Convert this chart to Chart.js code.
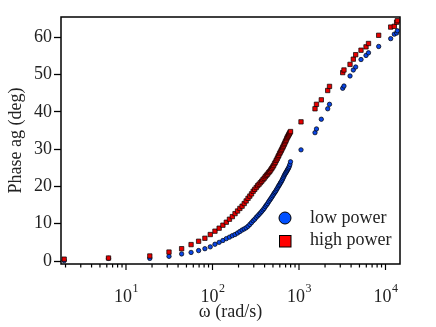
<!DOCTYPE html>
<html>
<head>
<meta charset="utf-8">
<script src="https://cdn.jsdelivr.net/npm/chart.js@4.4.1/dist/chart.umd.min.js"></script>
<style>
  html, body { margin: 0; padding: 0; background: #fff; }
  #wrap { width: 436px; height: 327px; }
</style>
</head>
<body>
<div id="wrap"><canvas id="chart"></canvas></div>
<script>
// frequencies in rad/s, shared by both runs
const omega = [
  1.93, 6.28, 18.85, 31.42, 43.98, 56.55, 69.12, 81.68, 94.25, 106.8,
  119.4, 131.9, 144.5, 157.1, 169.6, 182.2, 194.8, 207.3, 219.9, 232.5,
  245.0, 257.6, 270.2, 282.7, 295.3, 307.9, 320.4, 333.0, 345.6, 358.1,
  370.7, 383.3, 395.8, 408.4, 421.0, 433.5, 446.1, 458.7, 471.2, 483.8,
  496.4, 508.9, 521.5, 534.1, 546.6, 559.2, 571.8, 584.3, 596.9, 609.5,
  622.0, 634.6, 647.2, 659.7, 672.3, 684.9, 697.4, 710.0, 722.6, 735.1,
  747.7, 760.3, 772.8, 785.4, 798.0,
  1055, 1531, 1592, 1811, 2147, 2253, 3200, 3311, 3890, 4246,
  4522, 5210, 5954, 6360, 8340, 11480, 12640, 13450, 13700
];
const phaseLow = [
  0.1, 0.7, 0.7, 1.25, 1.9, 2.3, 2.8, 3.3, 3.8, 4.5,
  5.0, 5.5, 6.0, 6.4, 6.8, 7.1, 7.5, 7.9, 8.3, 8.6,
  8.9, 9.3, 9.8, 10.3, 10.8, 11.2, 11.7, 12.1, 12.5, 12.9,
  13.3, 13.7, 14.1, 14.6, 15.0, 15.4, 15.9, 16.3, 16.7, 17.1,
  17.5, 17.9, 18.3, 18.6, 19.0, 19.4, 19.8, 20.2, 20.5, 20.9,
  21.2, 21.6, 22.0, 22.4, 22.8, 23.2, 23.5, 23.8, 24.1, 24.4,
  24.7, 25.0, 25.4, 25.9, 26.6,
  29.8, 34.4, 35.4, 38.0, 40.8, 42.0, 46.3, 46.9, 49.6, 51.2,
  52.0, 54.0, 55.1, 55.8, 57.5, 59.6, 60.8, 61.1, 61.7
];
const phaseHigh = [
  0.5, 0.8, 1.35, 2.4, 3.3, 4.4, 5.3, 6.1, 7.1, 8.0,
  8.8, 9.6, 10.4, 11.2, 11.9, 12.7, 13.4, 14.1, 14.7, 15.4,
  16.1, 16.8, 17.4, 18.0, 18.7, 19.2, 19.7, 20.2, 20.6, 21.0,
  21.4, 21.8, 22.2, 22.6, 23.0, 23.3, 23.7, 24.0, 24.4, 24.8,
  25.2, 25.6, 26.1, 26.5, 27.0, 27.4, 27.9, 28.3, 28.8, 29.2,
  29.6, 30.0, 30.4, 30.8, 31.2, 31.6, 32.0, 32.4, 32.8, 33.2,
  33.5, 33.8, 34.1, 34.4, 34.7,
  37.3, 40.8, 42.0, 43.2, 45.7, 46.8, 50.5, 51.2, 52.7, 54.1,
  55.3, 56.5, 57.4, 58.3, 60.5, 62.7, 62.9, 64.0, 64.4
];
const seriesNames = ['low power', 'high power'];
const yTicks = [0, 10, 20, 30, 40, 50, 60];
const xTickExponents = [1, 2, 3, 4];

const serif = '"Liberation Serif", "Times New Roman", serif';
const blue = '#0a46e6';
const red = '#e60000';

const toPoints = ys => omega.map((w, i) => ({ x: w, y: ys[i] }));

// box, log ticks with minor marks, superscript labels and the inset legend
const decorPlugin = {
  id: 'decor',
  beforeDatasetsDraw(chart) {
    const { ctx, chartArea: a } = chart;
    const xs = chart.scales.x;
    ctx.save();
    ctx.strokeStyle = '#000';
    ctx.lineWidth = 1.5;
    ctx.strokeRect(a.left, a.top, a.right - a.left, a.bottom - a.top);
    ctx.lineWidth = 1.2;
    for (let n = 0; n <= 4; n++) {
      for (let m = 1; m <= 9; m++) {
        const v = m * Math.pow(10, n);
        if (v < xs.min || v > xs.max) continue;
        const px = xs.getPixelForValue(v);
        const len = m === 1 ? 6 : 3.5;
        ctx.beginPath();
        ctx.moveTo(px, a.bottom);
        ctx.lineTo(px, a.bottom + len);
        ctx.stroke();
      }
    }
    ctx.fillStyle = '#222';
    ctx.textBaseline = 'alphabetic';
    xTickExponents.forEach(e => {
      const px = xs.getPixelForValue(Math.pow(10, e));
      ctx.font = '18px ' + serif;
      const wBase = ctx.measureText('10').width;
      ctx.font = '12px ' + serif;
      const wExp = ctx.measureText(String(e)).width;
      const x0 = px - (wBase + wExp) / 2;
      ctx.font = '18px ' + serif;
      ctx.fillText('10', x0, 302);
      ctx.font = '12px ' + serif;
      ctx.fillText(String(e), x0 + wBase + 0.5, 292);
    });
    ctx.restore();
  },
  afterDraw(chart) {
    const { ctx } = chart;
    ctx.save();
    ctx.lineWidth = 1;
    ctx.strokeStyle = '#000';
    ctx.fillStyle = '#0050ff';
    ctx.beginPath();
    ctx.arc(285, 218, 6, 0, Math.PI * 2);
    ctx.fill();
    ctx.stroke();
    ctx.fillStyle = '#ff0000';
    ctx.fillRect(279.5, 235.5, 11.5, 11.5);
    ctx.strokeRect(279.5, 235.5, 11.5, 11.5);
    ctx.fillStyle = '#222';
    ctx.font = '18px ' + serif;
    ctx.textBaseline = 'middle';
    ctx.fillText(seriesNames[0], 310, 218);
    ctx.fillText(seriesNames[1], 310, 240);
    ctx.restore();
  }
};

new Chart(document.getElementById('chart'), {
  type: 'scatter',
  data: {
    datasets: [{
      label: seriesNames[0],
      data: toPoints(phaseLow),
      pointStyle: 'circle',
      pointRadius: 2.2,
      backgroundColor: blue,
      borderColor: '#000',
      borderWidth: 0.7,
      order: 1,
      clip: false,
    }, {
      label: seriesNames[1],
      data: toPoints(phaseHigh),
      pointStyle: 'rect',
      pointRadius: 3.1,
      backgroundColor: red,
      borderColor: '#000',
      borderWidth: 0.7,
      order: 0,
      clip: false,
    }],
  },
  options: {
    responsive: true,
    maintainAspectRatio: false,
    animation: false,
    layout: { padding: { left: 0, right: 36, top: 17, bottom: 0 } },
    plugins: {
      legend: { display: false },
      tooltip: { enabled: false },
    },
    scales: {
      x: {
        type: 'logarithmic',
        min: 1.773,
        max: 14710,
        grid: { display: false },
        border: { display: false },
        ticks: { display: false },
        title: {
          display: true,
          text: 'ω (rad/s)',
          color: '#222',
          font: { family: serif, size: 18 },
          padding: { top: 0, bottom: 3.5 },
        },
        afterFit(scale) { scale.height = 63; },
      },
      y: {
        min: -0.8,
        max: 65.4,
        afterBuildTicks(scale) { scale.ticks = yTicks.map(v => ({ value: v })); },
        grid: {
          drawOnChartArea: false,
          drawTicks: true,
          tickLength: 7,
          tickColor: '#000',
          tickWidth: 1.3,
        },
        border: { display: false },
        ticks: {
          color: '#222',
          padding: 2,
          font: { family: serif, size: 18 },
        },
        title: {
          display: true,
          text: 'Phase ag (deg)',
          color: '#222',
          font: { family: serif, size: 18 },
          padding: { top: 5, bottom: 0 },
        },
        afterFit(scale) { scale.width = 61; },
      },
    },
  },
  plugins: [decorPlugin],
});
</script>
</body>
</html>
